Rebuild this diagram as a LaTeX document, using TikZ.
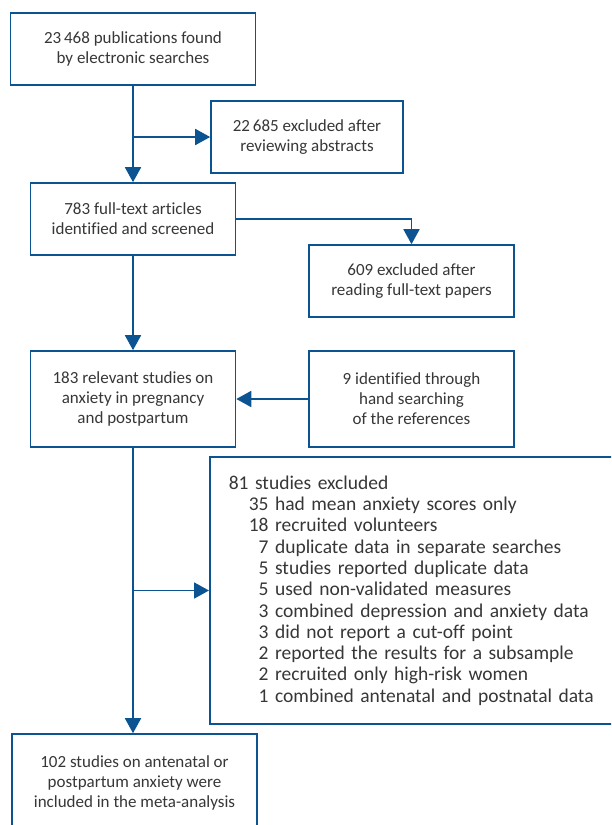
\documentclass[tikz,border=0pt]{standalone}
\usepackage{fontspec}
\setmainfont[Ligatures={NoCommon}]{Carlito}
\usetikzlibrary{arrows.meta}
\definecolor{fblue}{RGB}{12,84,145}
\definecolor{ftext}{RGB}{55,55,55}
\begin{document}
\begin{tikzpicture}[x=1pt,y=-1pt,
  box/.style={draw=fblue,line width=1.6pt,fill=white,text=ftext,align=center,inner sep=0pt,font=\fontsize{17}{20}\selectfont},
  conn/.style={draw=fblue,line width=1.8pt,-{Triangle[length=15pt,width=16pt]}}]
\path[use as bounding box] (0,0) rectangle (611,825);
\clip (0,0) rectangle (611,825);
\node[box,minimum width=245pt,minimum height=72pt] (b1) at (133,49) {23\,468 publications found\\by electronic searches};
\node[box,minimum width=192pt,minimum height=72pt] (b2) at (307,137) {22\,685 excluded after\\reviewing abstracts};
\node[box,minimum width=205pt,minimum height=72pt] (b3) at (133,219) {783 full-text articles\\identified and screened};
\node[box,minimum width=205pt,minimum height=72pt] (b4) at (411.5,281) {609 excluded after\\reading full-text papers};
\node[box,minimum width=205pt,minimum height=96pt] (b5) at (133,399) {183 relevant studies on\\anxiety in pregnancy\\and postpartum};
\node[box,minimum width=205pt,minimum height=96pt] (b6) at (411.5,399) {9 identified through\\hand searching\\of the references};
\node[box,anchor=west,text width=378pt,align=left,inner xsep=19pt,minimum height=267pt,font=\fontsize{19.5}{21.3}\selectfont] (b7) at (209,590.5) {81 studies excluded\\
\hspace*{20pt}35 had mean anxiety scores only\\
\hspace*{20pt}18 recruited volunteers\\
\hspace*{20pt}\phantom{0}7 duplicate data in separate searches\\
\hspace*{20pt}\phantom{0}5 studies reported duplicate data\\
\hspace*{20pt}\phantom{0}5 used non-validated measures\\
\hspace*{20pt}\phantom{0}3 combined depression and anxiety data\\
\hspace*{20pt}\phantom{0}3 did not report a cut-off point\\
\hspace*{20pt}\phantom{0}2 reported the results for a subsample\\
\hspace*{20pt}\phantom{0}2 recruited only high-risk women\\
\hspace*{20pt}\phantom{0}1 combined antenatal and postnatal data};
\node[box,minimum width=245pt,minimum height=98pt] (b8) at (134.5,783) {102 studies on antenatal or\\postpartum anxiety were\\included in the meta-analysis};
\draw[conn] (b1.south) -- (b1.south |- b3.north);
\draw[conn] (b1.south |- b2.west) -- (b2.west);
\draw[conn] (b3.east) -| (b4.north);
\draw[conn] (b3.south) -- (b5.north);
\draw[conn] (b6.west) -- (b5.east);
\draw[conn] (b5.south) -- (b5.south |- b8.north);
\draw[conn] (b5.south |- b7.west) -- (b7.west);
\end{tikzpicture}
\end{document}
